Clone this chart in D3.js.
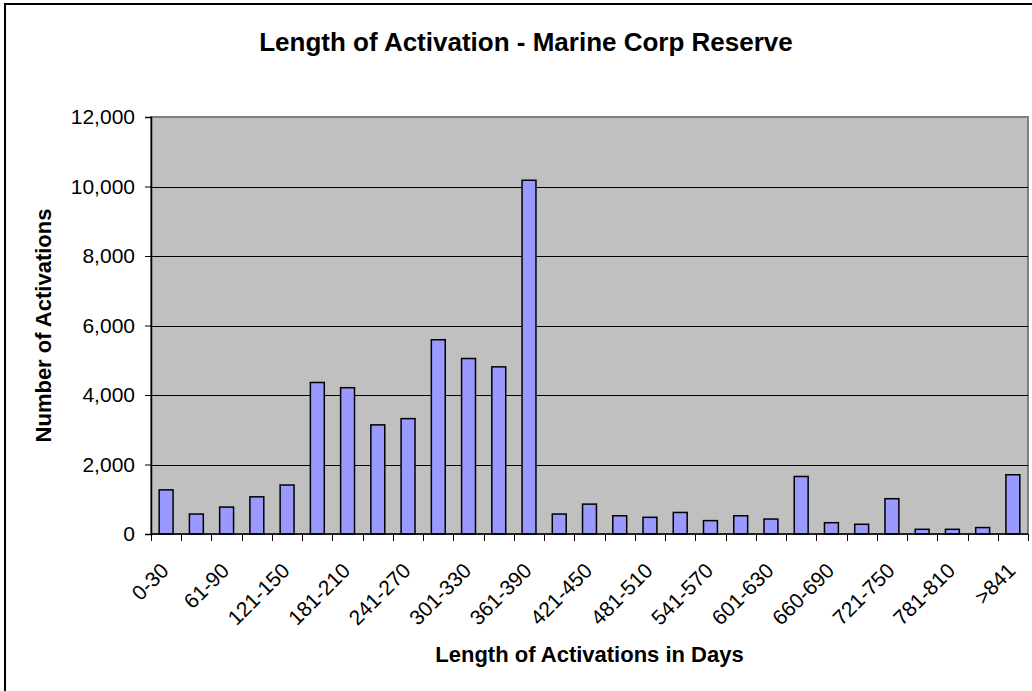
<!DOCTYPE html>
<html>
<head>
<meta charset="utf-8">
<script src="https://cdn.jsdelivr.net/npm/d3@7"></script>
<style>
  body { margin: 0; background: #fff; }
  text { font-family: "Liberation Sans", Arial, sans-serif; fill: #000; }
</style>
</head>
<body>
<div id="chart"></div>
<script>
// day ranges (only every other one is labelled on the axis)
var categories = ["0-30", "31-60", "61-90", "91-120", "121-150", "151-180", "181-210",
  "211-240", "241-270", "271-300", "301-330", "331-360", "361-390", "391-420",
  "421-450", "451-480", "481-510", "511-540", "541-570", "571-600", "601-630",
  "631-659", "660-690", "691-720", "721-750", "751-780", "781-810", "811-840", ">841"];

var activations = [1270, 575, 775, 1070, 1410, 4360, 4210, 3140, 3320, 5590, 5050, 4810,
  10180, 575, 860, 525, 480, 620, 385, 525, 430, 1655, 325, 280, 1015, 135, 135, 185, 1705];

var yTicks = [0, 2000, 4000, 6000, 8000, 10000, 12000];

var svg_w = 1032, svg_h = 691;
var plot_l = 151, plot_t = 117, plot_r = 1028, plot_b = 534;

var data = categories.map(function(c, i) { return {range: c, count: activations[i]}; });

var svg = d3.select("#chart")
      .append("svg")
      .attr("width", svg_w)
      .attr("height", svg_h);

// outer chart frame, runs off the right and bottom edge
svg.append("rect")
  .attr("x", 5)
  .attr("y", 4)
  .attr("width", 1042)
  .attr("height", 700)
  .style("fill", "#fff")
  .style("stroke", "#000")
  .style("stroke-width", 2);

var xScale = d3.scaleBand()
      .domain(categories)
      .range([plot_l, plot_r])
      .paddingInner(0.54)
      .paddingOuter(0.27);

var yScale = d3.scaleLinear()
      .domain([0, 12000])
      .range([plot_b, plot_t]);

// grey plot area
svg.append("rect")
  .attr("x", plot_l)
  .attr("y", plot_t)
  .attr("width", plot_r - plot_l)
  .attr("height", plot_b - plot_t)
  .style("fill", "#c0c0c0")
  .style("stroke", "#808080")
  .style("stroke-width", 2);

// gridlines
svg.append("g")
  .selectAll("line")
  .data(yTicks.filter(function(d) { return d > 0 && d < 12000; }))
  .enter()
  .append("line")
  .attr("x1", plot_l)
  .attr("x2", plot_r)
  .attr("y1", function(d) { return Math.round(yScale(d)) + 0.5; })
  .attr("y2", function(d) { return Math.round(yScale(d)) + 0.5; })
  .style("stroke", "#000")
  .style("stroke-width", 1);

svg.append("g")
  .selectAll("rect")
  .data(data)
  .enter()
  .append("rect")
  .attr("x", function(d) { return xScale(d.range); })
  .attr("y", function(d) { return yScale(d.count); })
  .attr("width", xScale.bandwidth())
  .attr("height", function(d) { return plot_b - yScale(d.count); })
  .style("fill", "#9999ff")
  .style("stroke", "#000")
  .style("stroke-width", 1.5);

// y axis
var yAxis = d3.axisLeft()
      .scale(yScale)
      .tickValues(yTicks)
      .tickFormat(d3.format(","))
      .tickSizeOuter(0)
      .tickSize(6)
      .tickPadding(10);

var gy = svg.append("g")
  .attr("transform", "translate(" + plot_l + ",0)")
  .call(yAxis);
gy.select(".domain").style("stroke", "#000").style("stroke-width", 1.5);
gy.selectAll("line").style("stroke", "#000");
gy.selectAll("text")
  .style("font-size", "21px")
  .style("font-family", "'Liberation Sans', Arial, sans-serif");

// x axis: ticks sit on category boundaries
var step = xScale.step();
var boundaries = d3.range(categories.length + 1).map(function(i) { return plot_l + i * (plot_r - plot_l) / categories.length; });

svg.append("line")
  .attr("x1", plot_l)
  .attr("x2", plot_r)
  .attr("y1", plot_b)
  .attr("y2", plot_b)
  .style("stroke", "#000")
  .style("stroke-width", 1.5);

svg.append("g")
  .selectAll("line")
  .data(boundaries)
  .enter()
  .append("line")
  .attr("x1", function(d) { return Math.round(d) + 0.5; })
  .attr("x2", function(d) { return Math.round(d) + 0.5; })
  .attr("y1", plot_b)
  .attr("y2", plot_b + 7)
  .style("stroke", "#000")
  .style("stroke-width", 1);

svg.append("g")
  .selectAll("text")
  .data(data.filter(function(d, i) { return i % 2 === 0; }))
  .enter()
  .append("text")
  .attr("text-anchor", "end")
  .attr("transform", function(d) {
    return "translate(" + (xScale(d.range) + xScale.bandwidth() / 2 + 4) + "," + (plot_b + 38) + ") rotate(-45)";
  })
  .style("font-size", "21px")
  .text(function(d) { return d.range; });

// titles
svg.append("text")
  .attr("text-anchor", "middle")
  .attr("x", 526)
  .attr("y", 51)
  .style("font-size", "26px")
  .style("font-weight", "bold")
  .text("Length of Activation - Marine Corp Reserve");

svg.append("text")
  .attr("text-anchor", "middle")
  .attr("x", (plot_l + plot_r) / 2)
  .attr("y", 662)
  .style("font-size", "22px")
  .style("font-weight", "bold")
  .text("Length of Activations in Days");

svg.append("text")
  .attr("text-anchor", "middle")
  .attr("transform", "translate(51," + ((plot_t + plot_b) / 2) + ") rotate(-90)")
  .style("font-size", "22px")
  .style("font-weight", "bold")
  .text("Number of Activations");
</script>
</body>
</html>
